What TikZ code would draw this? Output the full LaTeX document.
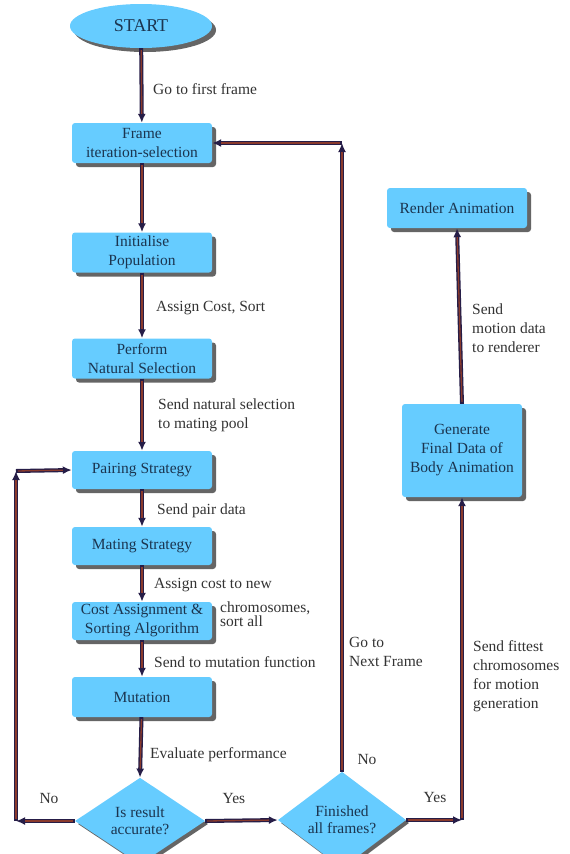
\documentclass[tikz,border=0pt]{standalone}
\usepackage{fontspec}
\setmainfont{Liberation Serif}
\usepackage{tikz}
\usetikzlibrary{arrows.meta,positioning,shapes.geometric,shadows}
\definecolor{Sky}{HTML}{66CCFF}
\definecolor{BoxInk}{HTML}{1B3550}
\definecolor{LabelInk}{HTML}{333333}
\definecolor{Navy}{HTML}{261D47}
\definecolor{Rust}{HTML}{8A3A2C}
\definecolor{Shade}{HTML}{555555}
\tikzset{
  stepbox/.style={draw=none,fill=Sky,rounded corners=3pt,minimum width=140pt,minimum height=40pt,align=center,text=BoxInk,font=\fontsize{15.5}{19}\selectfont,inner sep=2pt,drop shadow={shadow xshift=4pt,shadow yshift=-4pt,fill=Shade,opacity=.9}},
  askbox/.style={diamond,draw=none,fill=Sky,minimum width=130pt,minimum height=64pt,inner sep=0pt,align=center,text=BoxInk,font=\fontsize{15.5}{17}\selectfont,drop shadow={shadow xshift=3pt,shadow yshift=-3pt,fill=Shade,opacity=.9}},
  lab/.style={text=LabelInk,font=\fontsize{15.5}{19}\selectfont,align=left,inner sep=0pt},
  flowline/.style={-{Latex[length=9pt,width=8pt]},line width=4pt,draw=Navy,postaction={draw=Rust,line width=1.3pt,-,shorten >=9pt,shorten <=2pt}}
}
\begin{document}
\begin{tikzpicture}[x=1pt,y=-1pt]
  \useasboundingbox[fill=white] (0,0) rectangle (570,854);
  % main column
  \node[ellipse,fill=Sky,minimum width=142pt,minimum height=44pt,text=BoxInk,font=\fontsize{18}{20}\selectfont,drop shadow={shadow xshift=4pt,shadow yshift=-4pt,fill=Shade,opacity=.9}] (start) at (141,26) {START};
  \node[stepbox] (frame) at (142,143) {Frame\\iteration-selection};
  \node[stepbox] (init) at (142,252.5) {Initialise\\Population};
  \node[stepbox] (natsel) at (142,358.5) {Perform\\Natural Selection};
  \node[stepbox,minimum height=38pt] (pair) at (142,470) {Pairing Strategy};
  \node[stepbox,minimum height=38pt] (mating) at (142,546) {Mating Strategy};
  \node[stepbox,minimum height=38pt] (cost) at (142,621) {Cost Assignment \&\\Sorting Algorithm};
  \node[stepbox] (mut) at (142,697) {Mutation};
  \node[askbox] (acc) at (140,821) {Is result\\accurate?};
  \node[askbox,minimum width=128pt,minimum height=66pt] (fin) at (342,820) {Finished\\all frames?};
  % right column
  \node[stepbox] (render) at (457,208) {Render Animation};
  \node[stepbox,minimum width=120pt,minimum height=93pt] (gen) at (462,450.5) {Generate\\Final Data of\\Body Animation};
  % corners
  \coordinate (noL) at (16,821);
  \coordinate (noTop) at (16,471);
  \coordinate (nextC) at (342,143);
  \coordinate (yesC) at (462,820);
  % connectors
  \draw[flowline] (start) -- (frame); \draw[flowline] (frame) -- (init); \draw[flowline] (init) -- (natsel);
  \draw[flowline] (natsel) -- (pair); \draw[flowline] (pair) -- (mating); \draw[flowline] (mating) -- (cost);
  \draw[flowline] (cost) -- (mut); \draw[flowline] (mut) -- (acc.north);
  \draw[flowline] (acc.west) -- (noL); \draw[flowline] (noL) -- (noTop); \draw[flowline] (noTop) -- (pair.west);
  \draw[flowline] (acc.east) -- (fin.west);
  \draw[flowline] (fin.north) -- (nextC); \draw[flowline] (nextC) -- (frame.east);
  \draw[flowline] (fin.east) -- (yesC); \draw[flowline] (yesC) -- (gen.south);
  \draw[flowline] (gen.north) -- (render.south);
  % labels
  \node[lab,anchor=west] (golab) at (153,89) {Go to first frame};
  \node[lab,anchor=west] (sortlab) at (156,308) {Assign Cost, Sort};
  \node[lab,anchor=west] (poollab) at (158,415) {Send natural selection\\to mating pool};
  \node[lab,anchor=west] (pairlab) at (157,511) {Send pair data};
  \node[lab,anchor=west] (newlab) at (154,585) {Assign cost to new};
  \node[lab,anchor=west,font=\fontsize{15.5}{14}\selectfont] (chromlab) at (220,614) {chromosomes,\\sort all};
  \node[lab,anchor=west] (mutlab) at (154,662) {Send to mutation function};
  \node[lab,anchor=west] (evallab) at (150,755) {Evaluate performance};
  \node[lab] (nolab) at (49,798) {No};
  \node[lab] (yeslab) at (234,798) {Yes};
  \node[lab] (nextno) at (367,759) {No};
  \node[lab] (finyes) at (435,797) {Yes};
  \node[lab,anchor=west] (nextlab) at (349,652) {Go to\\Next Frame};
  \node[lab,anchor=west] (fitlab) at (473,676) {Send fittest\\chromosomes\\for motion\\generation};
  \node[lab,anchor=west] (rendlab) at (472,328) {Send\\motion data\\to renderer};
\end{tikzpicture}
\end{document}
